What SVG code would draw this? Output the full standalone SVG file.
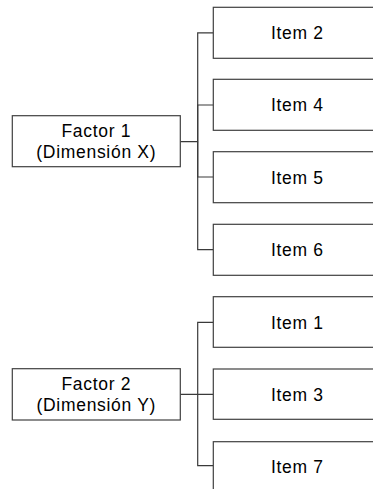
<svg xmlns="http://www.w3.org/2000/svg" width="373" height="489" viewBox="0 0 373 489">
<style>
.box{fill:#fff;stroke:#404040;stroke-width:1.2}
.t{font-family:"Liberation Sans",Arial,sans-serif;font-size:17.5px;letter-spacing:0.7px;fill:#000;text-anchor:middle}
.c{fill:none;stroke:#3a3a3a;stroke-width:1.2}
</style>
<rect width="373" height="489" fill="#fff"/>
<g id="connectors">
<path class="c" d="M180.3 141.7H197.7V32.8H213.3"/>
<path class="c" d="M197.7 141.7V105H213.3"/>
<path class="c" d="M197.7 141.7V177H213.3"/>
<path class="c" d="M197.7 141.7V249.7H213.3"/>
<path class="c" d="M180.3 394.3H213.3"/>
<path class="c" d="M197.7 394.3V322.3H213.3"/>
<path class="c" d="M197.7 394.3V465.7H213.3"/>
</g>
<g id="factor1"><rect class="box" x="12.3" y="115.7" width="168" height="51"/><text class="t" x="96.3" y="137">Factor 1<tspan x="96.3" dy="20.5">(Dimensión X)</tspan></text></g>
<g id="item2"><rect class="box" x="213.3" y="7.3" width="168" height="51"/><text class="t" x="297.3" y="39.3">Item 2</text></g>
<g id="item4"><rect class="box" x="213.3" y="79.3" width="168" height="51"/><text class="t" x="297.3" y="111.3">Item 4</text></g>
<g id="item5"><rect class="box" x="213.3" y="151.7" width="168" height="51"/><text class="t" x="297.3" y="183.7">Item 5</text></g>
<g id="item6"><rect class="box" x="213.3" y="224.3" width="168" height="51"/><text class="t" x="297.3" y="256.3">Item 6</text></g>
<g id="factor2"><rect class="box" x="12.3" y="368.7" width="168" height="51.3"/><text class="t" x="96.3" y="390">Factor 2<tspan x="96.3" dy="20.7">(Dimensión Y)</tspan></text></g>
<g id="item1"><rect class="box" x="213.3" y="296.7" width="168" height="50.6"/><text class="t" x="297.3" y="328.7">Item 1</text></g>
<g id="item3"><rect class="box" x="213.3" y="369" width="168" height="50.3"/><text class="t" x="297.3" y="400.8">Item 3</text></g>
<g id="item7"><rect class="box" x="213.3" y="441.7" width="168" height="60"/><text class="t" x="297.3" y="473.2">Item 7</text></g>
</svg>
